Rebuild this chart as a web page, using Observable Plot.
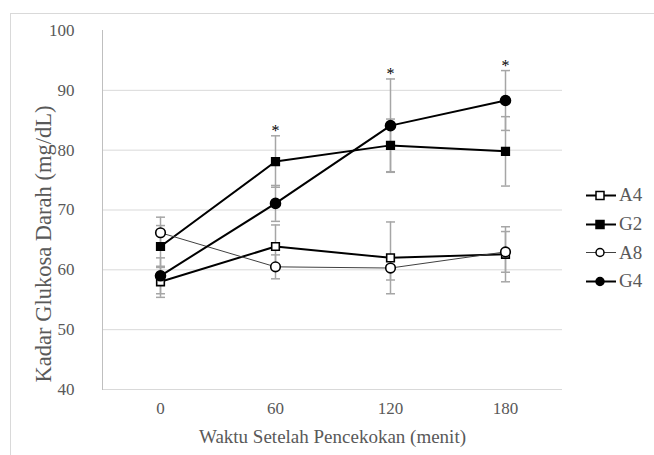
<!DOCTYPE html>
<html>
<head>
<meta charset="utf-8">
<script src="https://cdn.jsdelivr.net/npm/d3@7"></script>
<script src="https://cdn.jsdelivr.net/npm/@observablehq/plot@0.6"></script>
<style>
  html, body { margin: 0; padding: 0; background: #fff; }
  #wrap { position: relative; width: 654px; height: 455px; overflow: hidden; font-family: "Liberation Serif", "Times New Roman", serif; }
  #frame { position: absolute; left: 10px; top: 13px; width: 700px; height: 500px; border-top: 1px solid #d9d9d9; border-left: 1px solid #d9d9d9; }
  #chart { position: absolute; left: 0; top: 0; }
  #legend { position: absolute; left: 585px; top: 181px; }
  .item { display: flex; align-items: center; height: 28.7px; font-size: 19px; color: #595959; }
  .item svg { margin-right: 2px; }
</style>
</head>
<body>
<div id="wrap">
  <div id="frame"></div>
  <div id="chart"></div>
  <div id="legend"></div>
</div>
<script>
// Data
const times = [0, 60, 120, 180];
const seriesNames = ["A4", "G2", "A8", "G4"];
const A4 = [58.0, 63.9, 62.0, 62.6];
const A4sd = [2.6, 3.6, 6.0, 4.6];
const G2 = [63.9, 78.1, 80.8, 79.8];
const G2sd = [3.5, 4.3, 4.4, 5.8];
const A8 = [66.2, 60.5, 60.3, 63.0];
const A8sd = [2.6, 2.0, 2.0, 3.4];
const G4 = [59.0, 71.1, 84.1, 88.3];
const G4sd = [3.0, 3.0, 7.8, 5.0];
const stars = ["", "*", "*", "*"];
const yTicks = [40, 50, 60, 70, 80, 90, 100];
const gridTicks = [50, 60, 70, 80, 90];
const xTitle = "Waktu Setelah Pencekokan (menit)";
const yTitle = "Kadar Glukosa Darah (mg/dL)";

const values = {A4, G2, A8, G4};
const sds = {A4: A4sd, G2: G2sd, A8: A8sd, G4: G4sd};
const rows = seriesNames.flatMap(s => times.map((t, i) => ({series: s, t, v: values[s][i], sd: sds[s][i]})));
const starRows = times.map((t, i) => ({t, star: stars[i], top: Math.max(...seriesNames.map(s => values[s][i] + sds[s][i]))})).filter(d => d.star);

const style = {
  A4: {symbol: "square", fill: "white", lw: 2, r: 4.3, stroke: "#000"},
  G2: {symbol: "square", fill: "black", lw: 2, r: 4.3, stroke: "#000"},
  A8: {symbol: "circle", fill: "white", lw: 1, r: 4.8, stroke: "#404040"},
  G4: {symbol: "circle", fill: "black", lw: 2, r: 5, stroke: "#000"}
};

const capSymbol = {draw(ctx, size) { const r = Math.sqrt(size / Math.PI); ctx.moveTo(-r, 0); ctx.lineTo(r, 0); }};

const marks = [
  Plot.ruleY(gridTicks, {stroke: "#d9d9d9", strokeWidth: 1}),
  Plot.ruleY([40], {stroke: "#d9d9d9", strokeWidth: 1}),
  Plot.frame({anchor: "left", stroke: "#bfbfbf"})
];
// error bars
marks.push(Plot.ruleX(rows, {x: "t", y1: d => d.v - d.sd, y2: d => d.v + d.sd, stroke: "#a6a6a6", strokeWidth: 1.5}));
marks.push(Plot.dot(rows, {x: "t", y: d => d.v - d.sd, symbol: capSymbol, r: 4.5, stroke: "#a6a6a6", strokeWidth: 1.5}));
marks.push(Plot.dot(rows, {x: "t", y: d => d.v + d.sd, symbol: capSymbol, r: 4.5, stroke: "#a6a6a6", strokeWidth: 1.5}));
// lines and markers
for (const s of seriesNames) {
  const st = style[s];
  const data = rows.filter(d => d.series === s);
  marks.push(Plot.line(data, {x: "t", y: "v", stroke: st.stroke, strokeWidth: st.lw}));
}
for (const s of seriesNames) {
  const st = style[s];
  const data = rows.filter(d => d.series === s);
  marks.push(Plot.dot(data, {x: "t", y: "v", symbol: st.symbol, r: st.r, fill: st.fill, stroke: "#000", strokeWidth: 1.6}));
}
marks.push(Plot.text(starRows, {x: "t", y: "top", text: "star", lineAnchor: "bottom", dy: 0, fontSize: 16, fill: "#000"}));
marks.push(Plot.axisY(yTicks, {tickSize: 0, tickPadding: 28, fontSize: 17, color: "#595959", label: null}));
marks.push(Plot.axisX(times, {tickSize: 0, tickPadding: 12, fontSize: 17, color: "#595959", label: null}));
marks.push(Plot.text([yTitle], {frameAnchor: "left", text: d => d, textAnchor: "middle", lineAnchor: "middle", rotate: -90, dx: -59, dy: 34, fontSize: 22.5, fill: "#595959"}));
marks.push(Plot.text([xTitle], {frameAnchor: "bottom", text: d => d, textAnchor: "middle", lineAnchor: "middle", dy: 47, fontSize: 19, fill: "#595959"}));

const chart = Plot.plot({
  width: 562,
  height: 455,
  marginLeft: 102,
  marginRight: 0,
  marginTop: 30,
  marginBottom: 66,
  style: {fontFamily: "'Liberation Serif', 'Times New Roman', serif", color: "#595959", background: "transparent", fontSize: "17px"},
  x: {type: "point", domain: times, padding: 0.5},
  y: {domain: [40, 100]},
  marks
});
document.getElementById("chart").appendChild(chart);

// legend
const legend = document.getElementById("legend");
for (const s of seriesNames) {
  const st = style[s];
  const item = document.createElement("div");
  item.className = "item";
  const shape = st.symbol === "square"
    ? `<rect x="11" y="3.5" width="8" height="8" fill="${st.fill}" stroke="#000" stroke-width="1.5"/>`
    : `<circle cx="15" cy="7.5" r="4" fill="${st.fill}" stroke="#000" stroke-width="1.5"/>`;
  item.innerHTML = `<svg width="32" height="15"><line x1="1" x2="31" y1="7.5" y2="7.5" stroke="${st.stroke}" stroke-width="${st.lw}"/>${shape}</svg><span>${s}</span>`;
  legend.appendChild(item);
}
</script>
</body>
</html>
